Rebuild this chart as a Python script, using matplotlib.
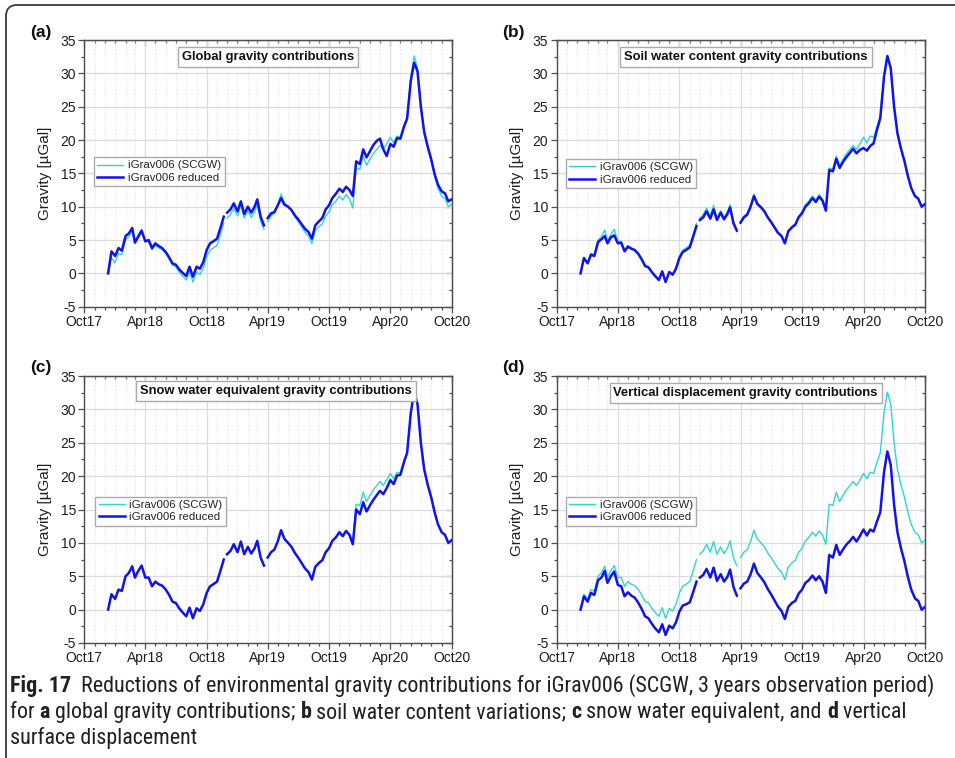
import os
import numpy as np
import pandas as pd
import matplotlib
matplotlib.use("Agg")
import matplotlib.pyplot as plt
import matplotlib.dates as mdates
from matplotlib.ticker import MultipleLocator
from matplotlib.patches import FancyBboxPatch
from matplotlib.transforms import IdentityTransform
from matplotlib.font_manager import FontProperties
from matplotlib import font_manager

nan = np.nan

plt.rcParams['font.family'] = ['Liberation Sans', 'DejaVu Sans']
plt.rcParams['axes.unicode_minus'] = False

# ---------------------------------------------------------------------------
# data: gravity in µGal, sampled on the 1st/11th/21st of each month
# (one NaN row at the end of Nov 2018 and Mar 2019 marks the data gaps)
# ---------------------------------------------------------------------------
scgw = [
    0.0, 2.3,                 # Dec 2017
    1.6, 3.0, 2.8,            # Jan 2018
    5.0, 5.5, 6.5,            # Feb
    4.8, 5.8, 6.6,            # Mar
    4.8, 4.8, 3.5,            # Apr
    4.2, 3.8, 3.6,            # May
    3.0, 2.2, 1.2,            # Jun
    1.0, 0.2, -0.4,           # Jul
    -1.0, 0.3, -1.3,          # Aug
    0.2, -0.2, 0.8,           # Sep
    2.5, 3.5, 3.8,            # Oct
    4.2, 5.8, 7.5, nan,       # Nov
    8.3, 8.8, 9.8,            # Dec
    8.6, 10.2, 8.3,           # Jan 2019
    9.4, 8.4, 9.2,            # Feb
    10.3, 7.8, 6.6, nan,      # Mar
    7.8, 8.6, 9.0,            # Apr
    10.2, 11.9, 10.6,         # May
    10.0, 9.4, 8.5,           # Jun
    7.8, 7.0, 6.2,            # Jul
    5.6, 4.5, 6.4,            # Aug
    7.0, 7.4, 8.6,            # Sep
    9.2, 10.3, 10.8,          # Oct
    11.6, 11.0, 11.8,         # Nov
    11.2, 9.8, 15.8,          # Dec
    15.6, 17.6, 16.2,         # Jan 2020
    17.2, 18.0, 18.6,         # Feb
    19.2, 18.6, 19.4,         # Mar
    20.4, 19.6, 20.6,         # Apr
    20.4, 22.0, 23.5,         # May
    29.5, 32.6, 30.8,         # Jun
    25.0, 21.0, 18.8,         # Jul
    16.8, 14.6, 12.8,         # Aug
    11.6, 11.2, 10.0,         # Sep
    10.4,                     # Oct
]

# contribution removed from the SCGW signal in each panel (µGal)
global_corr = [
    0.0, -1.0,
    -1.0, -0.8, -0.6,
    -0.6, -0.5, -0.3,
    0.2, 0.3, 0.2,
    0.0, -0.2, -0.3,
    -0.3, -0.3, -0.2,
    -0.2, -0.2, -0.3,
    -0.3, -0.4, -0.5,
    -0.6, -0.7, -0.8,
    -0.8, -0.9, -0.9,
    -1.0, -1.0, -1.0,
    -1.0, -1.0, -1.0, nan,
    -0.8, -0.8, -0.7,
    -0.7, -0.6, -0.6,
    -0.6, -0.7, -0.8,
    -0.8, -0.7, -0.6, nan,
    -0.5, -0.4, -0.2,
    0.0, 0.6, 0.3,
    0.0, -0.1, -0.2,
    -0.3, -0.4, -0.5,
    -0.6, -0.7, -0.8,
    -0.8, -0.9, -1.0,
    -1.0, -1.0, -1.1,
    -1.1, -1.2, -1.2,
    -1.3, -1.8, -1.0,
    -0.8, -1.0, -1.2,
    -1.2, -1.3, -1.3,
    -1.0, 0.0, 1.8,
    1.0, 0.6, 0.3,
    0.2, 0.1, 0.3,
    0.6, 1.0, 0.5,
    0.0, -0.2, -0.3,
    -0.3, -0.3, -0.5,
    -0.7, -0.8, -0.8,
    -0.7,
]

soil_corr = [
    0.0, 0.0,
    0.1, 0.2, 0.2,
    0.3, 0.4, 0.9,
    0.3, 0.4, 0.9,
    0.3, 0.2, 0.2,
    0.2, 0.1, 0.1,
    0.1, 0.1, 0.1,
    0.1, 0.0, 0.0,
    0.0, 0.0, 0.0,
    0.0, 0.0, 0.1,
    0.2, 0.3, 0.3,
    0.3, 0.3, 0.4, nan,
    0.3, 0.4, 0.5,
    0.4, 0.6, 0.3,
    0.3, 0.3, 0.3,
    0.4, 0.3, 0.2, nan,
    0.2, 0.2, 0.2,
    0.2, 0.3, 0.2,
    0.1, 0.1, 0.1,
    0.1, 0.1, 0.1,
    0.0, 0.0, 0.1,
    0.1, 0.1, 0.2,
    0.2, 0.3, 0.3,
    0.3, 0.3, 0.3,
    0.3, 0.4, 0.3,
    0.3, 0.4, 0.4,
    0.4, 0.5, 0.5,
    0.5, 0.6, 0.9,
    1.6, 1.2, 1.5,
    0.9, 0.5, 0.2,
    0.0, 0.0, 0.0,
    0.0, 0.0, 0.0,
    0.0, 0.0, 0.0,
    0.0, 0.0, 0.0,
    0.0,
]

snow_corr = [
    0.0, 0.0,
    0.0, 0.0, 0.0,
    0.0, 0.0, 0.0,
    0.0, 0.0, 0.0,
    0.0, 0.0, 0.0,
    0.0, 0.0, 0.0,
    0.0, 0.0, 0.0,
    0.0, 0.0, 0.0,
    0.0, 0.0, 0.0,
    0.0, 0.0, 0.0,
    0.0, 0.0, 0.0,
    0.0, 0.0, 0.0, nan,
    0.0, 0.0, 0.0,
    0.0, 0.0, 0.0,
    0.0, 0.0, 0.0,
    0.0, 0.0, 0.0, nan,
    0.0, 0.0, 0.0,
    0.0, 0.0, 0.0,
    0.0, 0.0, 0.0,
    0.0, 0.0, 0.0,
    0.0, 0.0, 0.0,
    0.0, 0.0, 0.0,
    0.0, 0.0, 0.0,
    0.0, 0.0, 0.0,
    0.0, 0.0, 0.8,
    1.3, 1.5, 1.5,
    1.5, 1.5, 1.4,
    1.4, 1.3, 1.2,
    1.0, 0.8, 0.5,
    0.2, 0.0, 0.0,
    0.0, 0.0, 0.0,
    0.0, 0.0, 0.0,
    0.0, 0.0, 0.0,
    0.0, 0.0, 0.0,
    0.0,
]

vertical_corr = [
    0.0, 0.3,
    0.4, 0.5, 0.6,
    0.6, 0.7, 0.7,
    0.8, 0.8, 0.9,
    1.1, 1.3, 1.5,
    1.6, 1.7, 1.8,
    2.0, 2.1, 2.2,
    2.3, 2.3, 2.4,
    2.4, 2.5, 2.5,
    2.6, 2.6, 2.7,
    2.8, 2.9, 3.0,
    3.1, 3.2, 3.3, nan,
    3.5, 3.6, 3.7,
    3.8, 3.9, 4.0,
    4.1, 4.2, 4.3,
    4.3, 4.4, 4.5, nan,
    4.6, 4.7, 4.8,
    4.9, 5.0, 5.1,
    5.2, 5.3, 5.4,
    5.5, 5.6, 5.7,
    5.8, 5.9, 6.0,
    6.0, 6.1, 6.2,
    6.2, 6.3, 6.4,
    6.5, 6.6, 6.8,
    7.0, 7.3, 7.6,
    7.8, 7.9, 8.0,
    8.1, 8.2, 8.3,
    8.3, 8.4, 8.4,
    8.4, 8.5, 8.6,
    8.7, 8.8, 8.9,
    8.9, 8.9, 9.1,
    9.3, 9.4, 9.5,
    9.6, 9.7, 9.8,
    9.9, 9.9, 10.0,
    10.0,
]

panel_letters = ['(a)', '(b)', '(c)', '(d)']
panel_titles = ['Global gravity contributions',
                'Soil water content gravity contributions',
                'Snow water equivalent gravity contributions',
                'Vertical displacement gravity contributions']
panel_corrs = [global_corr, soil_corr, snow_corr, vertical_corr]
series_labels = ['iGrav006 (SCGW)', 'iGrav006 reduced']

caption_lines = [
    [("Fig. 17", 'bold'),
     ("  Reductions of environmental gravity contributions for iGrav006 "
      "(SCGW, 3 years observation period)", 'normal')],
    [("for ", 'normal'), ("a", 'bold'), (" global gravity contributions; ", 'normal'),
     ("b", 'bold'), (" soil water content variations; ", 'normal'),
     ("c", 'bold'), (" snow water equivalent, and ", 'normal'),
     ("d", 'bold'), (" vertical", 'normal')],
    [("surface displacement", 'normal')],
]


def sample_dates():
    out = []
    for m in pd.date_range("2017-12-01", "2020-10-01", freq="MS"):
        for d in (1, 11, 21):
            t = m + pd.Timedelta(days=d - 1)
            if pd.Timestamp("2017-12-11") <= t <= pd.Timestamp("2020-10-01"):
                out.append(t)
    # gap markers
    out += [pd.Timestamp("2018-11-28"), pd.Timestamp("2019-03-26")]
    return pd.DatetimeIndex(sorted(out))


def narrow_font(bold):
    """Look for an installed condensed sans face (caption font); None if absent."""
    want = 700 if bold else 400
    prefer = ['Noto Sans', 'Roboto', 'Open Sans', 'Liberation Sans Narrow', 'Lato']
    found = {}
    for f in font_manager.fontManager.ttflist:
        fn = os.path.basename(f.fname).lower()
        nm = f.name.lower()
        narrow = ('condensed' in fn or 'narrow' in fn or 'condensed' in nm
                  or 'narrow' in nm or f.stretch == 'condensed')
        if not narrow or 'extra' in fn or 'semi' in fn or 'ultra' in fn:
            continue
        if 'italic' in fn or 'oblique' in fn or f.style != 'normal':
            continue
        w = f.weight if isinstance(f.weight, int) else (700 if f.weight == 'bold' else 400)
        if w != want:
            continue
        for p in prefer:
            if f.name.startswith(p) and p not in found:
                found[p] = f.fname
    for p in prefer:
        if p in found:
            return found[p]
    return None


dates = sample_dates()
scgw = np.array(scgw, dtype=float)
for c in panel_corrs:
    assert len(c) == len(scgw) == len(dates)

CYAN = '#30d5d0'
BLUE = '#1212ee'
SPINE = '#4d4d4d'
W, H = 955, 758

fig = plt.figure(figsize=(W / 100, H / 100), dpi=100)


def add_axes_px(x0, y0, x1, y1):
    return fig.add_axes([x0 / W, 1 - y1 / H, (x1 - x0) / W, (y1 - y0) / H])


def style_axes(ax):
    ax.set_xlim(pd.Timestamp("2017-10-01"), pd.Timestamp("2020-10-01"))
    ax.set_ylim(-5, 35)
    ax.xaxis.set_major_locator(mdates.MonthLocator(bymonth=(4, 10)))
    ax.xaxis.set_minor_locator(mdates.MonthLocator())
    ax.xaxis.set_major_formatter(mdates.DateFormatter('%b%y'))
    ax.yaxis.set_major_locator(MultipleLocator(5))
    ax.yaxis.set_minor_locator(MultipleLocator(2.5))
    ax.grid(which='major', color='#dcdcdc', lw=0.9)
    ax.grid(which='minor', axis='x', color='#dadada', lw=0.6, ls=(0, (1, 2)))
    ax.set_axisbelow(True)
    ax.tick_params(which='both', direction='out', colors=SPINE, labelcolor='#1e1e1e',
                   labelsize=10, width=0.9)
    ax.tick_params(which='major', length=4)
    ax.tick_params(which='minor', length=2.2)
    ax.tick_params(axis='x', pad=2)
    ax.tick_params(axis='y', pad=2)
    for s in ax.spines.values():
        s.set_color(SPINE)
        s.set_linewidth(1.0)

    top = ax.secondary_xaxis('top')
    top.xaxis.set_major_locator(mdates.MonthLocator(bymonth=(4, 10)))
    top.xaxis.set_minor_locator(mdates.MonthLocator())
    top.tick_params(which='both', direction='in', labeltop=False, colors=SPINE, width=0.9)
    top.tick_params(which='major', length=4)
    top.tick_params(which='minor', length=2.2)
    top.spines['top'].set_color(SPINE)

    right = ax.secondary_yaxis('right')
    right.yaxis.set_major_locator(MultipleLocator(5))
    right.yaxis.set_minor_locator(MultipleLocator(2.5))
    right.tick_params(which='both', direction='in', labelright=False, colors=SPINE, width=0.9)
    right.tick_params(which='major', length=4)
    right.tick_params(which='minor', length=2.2)
    right.spines['right'].set_color(SPINE)


axes_px = [(84.3, 40, 451.7, 306.7), (556.7, 40, 925, 306.7),
           (84.3, 376, 451.7, 643), (556.7, 376, 925, 643)]
title_pos = [(0.500, 0.936), (0.514, 0.936), (0.521, 0.943), (0.513, 0.936)]
legend_pos = [(0.026, 0.561), (0.024, 0.554), (0.030, 0.548), (0.024, 0.548)]
letter_px = [(41, 32), (513, 32), (41, 368), (513, 368)]

for i in range(4):
    ax = add_axes_px(*axes_px[i])
    style_axes(ax)
    reduced = scgw - np.array(panel_corrs[i], dtype=float)
    ax.plot(dates, scgw, color=CYAN, lw=1.0, label=series_labels[0], zorder=3)
    ax.plot(dates, reduced, color=BLUE, lw=1.8, label=series_labels[1], zorder=4)

    ax.text(title_pos[i][0], title_pos[i][1], panel_titles[i], transform=ax.transAxes,
            ha='center', va='center', fontsize=9.4, fontweight='bold', color='#111111',
            zorder=5,
            bbox=dict(boxstyle='square,pad=0.3', fc='white', ec='#ababab', lw=1.0))

    leg = ax.legend(loc='upper left', bbox_to_anchor=legend_pos[i], fontsize=8.2,
                    frameon=True, fancybox=False, edgecolor='#ababab', framealpha=1,
                    handlelength=2.3, borderpad=0.3, labelspacing=0.2,
                    handletextpad=0.4, borderaxespad=0)
    leg.get_frame().set_linewidth(1.0)
    for t in leg.get_texts():
        t.set_color('#222222')

    ax.set_ylabel('Gravity [µGal]', fontsize=11, color='#1e1e1e')
    ax.yaxis.set_label_coords(-0.088, 0.5)

    fig.text(letter_px[i][0] / W, 1 - letter_px[i][1] / H, panel_letters[i],
             ha='center', va='center', fontsize=12.5, fontweight='bold', color='#111111')

# caption, pieces chained left to right so bold words sit inline
fonts = {}
for wgt in ('normal', 'bold'):
    path = narrow_font(wgt == 'bold')
    if path is not None:
        fonts[wgt] = FontProperties(fname=path, size=12)
    else:
        fonts[wgt] = FontProperties(family=['Liberation Sans', 'DejaVu Sans'],
                                    weight=wgt, size=12)

line_bottoms = [697, 723, 749]
cap_texts = []
first_line = []
for li, pieces in enumerate(caption_lines):
    prev = None
    for s, wgt in pieces:
        kw = dict(fontproperties=fonts[wgt].copy(), color='#231f20')
        if prev is None:
            t = fig.text(10 / W, 1 - line_bottoms[li] / H, s, ha='left', va='bottom', **kw)
        else:
            t = fig.add_artist(matplotlib.text.Annotation(
                s, xy=(1, 0), xycoords=prev, ha='left', va='bottom',
                annotation_clip=False, **kw))
        cap_texts.append(t)
        if li == 0:
            first_line.append(t)
        prev = t

fig.canvas.draw()
r = fig.canvas.get_renderer()
width = first_line[-1].get_window_extent(r).x1 - first_line[0].get_window_extent(r).x0
scale = 928 / width
for t in cap_texts:
    t.set_fontsize(t.get_fontsize() * scale)

# rounded frame around the figure (top and left edges visible)
frame = FancyBboxPatch((6, -60), 1100, H - 5 + 60,
                       boxstyle='round,pad=0,rounding_size=11',
                       transform=IdentityTransform(), fill=False,
                       ec='#3a3a3a', lw=1.3)
fig.add_artist(frame)

fig.savefig('out.png', dpi=100)
